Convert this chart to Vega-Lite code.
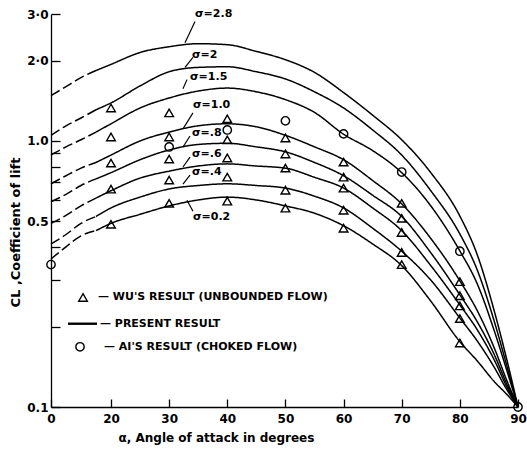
{
  "$schema": "https://vega.github.io/schema/vega-lite/v6.json",
  "width": 467,
  "height": 393,
  "autosize": {"type": "none"},
  "padding": {"left": 51, "top": 14, "right": 9, "bottom": 42},
  "background": "white",
  "config": {"view": {"stroke": null}, "font": "DejaVu Sans"},
  "datasets": {
    "curves": [
      {"s":"2.8","p":"e","a":0,"cl":1.48},{"s":"2.8","p":"e","a":5,"cl":1.60},{"s":"2.8","p":"e","a":10,"cl":1.73},{"s":"2.8","p":"e","a":15,"cl":1.84},
      {"s":"2.8","p":"m","a":15,"cl":1.84},{"s":"2.8","p":"m","a":20,"cl":1.94},{"s":"2.8","p":"m","a":25,"cl":2.15},{"s":"2.8","p":"m","a":30,"cl":2.26},{"s":"2.8","p":"m","a":35,"cl":2.32},{"s":"2.8","p":"m","a":40,"cl":2.30},{"s":"2.8","p":"m","a":45,"cl":2.17},{"s":"2.8","p":"m","a":50,"cl":2.02},{"s":"2.8","p":"m","a":55,"cl":1.81},{"s":"2.8","p":"m","a":60,"cl":1.52},{"s":"2.8","p":"m","a":65,"cl":1.25},{"s":"2.8","p":"m","a":70,"cl":1.01},{"s":"2.8","p":"m","a":75,"cl":0.76},{"s":"2.8","p":"m","a":80,"cl":0.522},{"s":"2.8","p":"m","a":83,"cl":0.373},{"s":"2.8","p":"m","a":86,"cl":0.226},{"s":"2.8","p":"m","a":88,"cl":0.153},{"s":"2.8","p":"m","a":90,"cl":0.1},

      {"s":"2","p":"e","a":0,"cl":1.05},{"s":"2","p":"e","a":5,"cl":1.14},{"s":"2","p":"e","a":10,"cl":1.22},{"s":"2","p":"e","a":15,"cl":1.31},
      {"s":"2","p":"m","a":15,"cl":1.31},{"s":"2","p":"m","a":20,"cl":1.39},{"s":"2","p":"m","a":25,"cl":1.61},{"s":"2","p":"m","a":30,"cl":1.82},{"s":"2","p":"m","a":35,"cl":1.89},{"s":"2","p":"m","a":40,"cl":1.90},{"s":"2","p":"m","a":45,"cl":1.82},{"s":"2","p":"m","a":50,"cl":1.71},{"s":"2","p":"m","a":55,"cl":1.53},{"s":"2","p":"m","a":60,"cl":1.33},{"s":"2","p":"m","a":65,"cl":1.10},{"s":"2","p":"m","a":70,"cl":0.885},{"s":"2","p":"m","a":75,"cl":0.65},{"s":"2","p":"m","a":80,"cl":0.447},{"s":"2","p":"m","a":83,"cl":0.327},{"s":"2","p":"m","a":86,"cl":0.207},{"s":"2","p":"m","a":88,"cl":0.145},{"s":"2","p":"m","a":90,"cl":0.1},

      {"s":"1.5","p":"e","a":0,"cl":0.885},{"s":"1.5","p":"e","a":5,"cl":0.95},{"s":"1.5","p":"e","a":10,"cl":1.01},{"s":"1.5","p":"e","a":15,"cl":1.08},
      {"s":"1.5","p":"m","a":15,"cl":1.08},{"s":"1.5","p":"m","a":20,"cl":1.16},{"s":"1.5","p":"m","a":25,"cl":1.33},{"s":"1.5","p":"m","a":30,"cl":1.45},{"s":"1.5","p":"m","a":35,"cl":1.54},{"s":"1.5","p":"m","a":40,"cl":1.58},{"s":"1.5","p":"m","a":45,"cl":1.53},{"s":"1.5","p":"m","a":50,"cl":1.43},{"s":"1.5","p":"m","a":55,"cl":1.28},{"s":"1.5","p":"m","a":60,"cl":1.06},{"s":"1.5","p":"m","a":65,"cl":0.92},{"s":"1.5","p":"m","a":70,"cl":0.76},{"s":"1.5","p":"m","a":75,"cl":0.57},{"s":"1.5","p":"m","a":80,"cl":0.386},{"s":"1.5","p":"m","a":83,"cl":0.29},{"s":"1.5","p":"m","a":86,"cl":0.191},{"s":"1.5","p":"m","a":88,"cl":0.139},{"s":"1.5","p":"m","a":90,"cl":0.1},

      {"s":"1.0","p":"e","a":0,"cl":0.69},{"s":"1.0","p":"e","a":5,"cl":0.74},{"s":"1.0","p":"e","a":10,"cl":0.79},{"s":"1.0","p":"e","a":15,"cl":0.83},
      {"s":"1.0","p":"m","a":15,"cl":0.83},{"s":"1.0","p":"m","a":20,"cl":0.885},{"s":"1.0","p":"m","a":25,"cl":1.0},{"s":"1.0","p":"m","a":30,"cl":1.08},{"s":"1.0","p":"m","a":35,"cl":1.14},{"s":"1.0","p":"m","a":40,"cl":1.16},{"s":"1.0","p":"m","a":45,"cl":1.13},{"s":"1.0","p":"m","a":50,"cl":1.05},{"s":"1.0","p":"m","a":55,"cl":0.95},{"s":"1.0","p":"m","a":60,"cl":0.85},{"s":"1.0","p":"m","a":65,"cl":0.71},{"s":"1.0","p":"m","a":70,"cl":0.58},{"s":"1.0","p":"m","a":75,"cl":0.43},{"s":"1.0","p":"m","a":80,"cl":0.298},{"s":"1.0","p":"m","a":83,"cl":0.23},{"s":"1.0","p":"m","a":86,"cl":0.165},{"s":"1.0","p":"m","a":88,"cl":0.127},{"s":"1.0","p":"m","a":90,"cl":0.1},

      {"s":".8","p":"e","a":0,"cl":0.59},{"s":".8","p":"e","a":5,"cl":0.63},{"s":".8","p":"e","a":10,"cl":0.68},{"s":".8","p":"e","a":15,"cl":0.72},
      {"s":".8","p":"m","a":15,"cl":0.72},{"s":".8","p":"m","a":20,"cl":0.76},{"s":".8","p":"m","a":25,"cl":0.85},{"s":".8","p":"m","a":30,"cl":0.925},{"s":".8","p":"m","a":35,"cl":0.97},{"s":".8","p":"m","a":40,"cl":0.98},{"s":".8","p":"m","a":45,"cl":0.95},{"s":".8","p":"m","a":50,"cl":0.91},{"s":".8","p":"m","a":55,"cl":0.83},{"s":".8","p":"m","a":60,"cl":0.74},{"s":".8","p":"m","a":65,"cl":0.625},{"s":".8","p":"m","a":70,"cl":0.52},{"s":".8","p":"m","a":75,"cl":0.38},{"s":".8","p":"m","a":80,"cl":0.264},{"s":".8","p":"m","a":83,"cl":0.209},{"s":".8","p":"m","a":86,"cl":0.156},{"s":".8","p":"m","a":88,"cl":0.123},{"s":".8","p":"m","a":90,"cl":0.1},

      {"s":".6","p":"e","a":0,"cl":0.49},{"s":".6","p":"e","a":5,"cl":0.525},{"s":".6","p":"e","a":10,"cl":0.57},{"s":".6","p":"e","a":15,"cl":0.61},
      {"s":".6","p":"m","a":15,"cl":0.61},{"s":".6","p":"m","a":20,"cl":0.65},{"s":".6","p":"m","a":25,"cl":0.725},{"s":".6","p":"m","a":30,"cl":0.77},{"s":".6","p":"m","a":35,"cl":0.805},{"s":".6","p":"m","a":40,"cl":0.82},{"s":".6","p":"m","a":45,"cl":0.805},{"s":".6","p":"m","a":50,"cl":0.79},{"s":".6","p":"m","a":55,"cl":0.73},{"s":".6","p":"m","a":60,"cl":0.665},{"s":".6","p":"m","a":65,"cl":0.56},{"s":".6","p":"m","a":70,"cl":0.46},{"s":".6","p":"m","a":75,"cl":0.34},{"s":".6","p":"m","a":80,"cl":0.242},{"s":".6","p":"m","a":83,"cl":0.195},{"s":".6","p":"m","a":86,"cl":0.149},{"s":".6","p":"m","a":88,"cl":0.12},{"s":".6","p":"m","a":90,"cl":0.1},

      {"s":".4","p":"e","a":0,"cl":0.41},{"s":".4","p":"e","a":5,"cl":0.445},{"s":".4","p":"e","a":10,"cl":0.49},{"s":".4","p":"e","a":15,"cl":0.52},
      {"s":".4","p":"m","a":15,"cl":0.52},{"s":".4","p":"m","a":20,"cl":0.56},{"s":".4","p":"m","a":25,"cl":0.615},{"s":".4","p":"m","a":30,"cl":0.66},{"s":".4","p":"m","a":35,"cl":0.68},{"s":".4","p":"m","a":40,"cl":0.69},{"s":".4","p":"m","a":45,"cl":0.68},{"s":".4","p":"m","a":50,"cl":0.665},{"s":".4","p":"m","a":55,"cl":0.62},{"s":".4","p":"m","a":60,"cl":0.56},{"s":".4","p":"m","a":65,"cl":0.47},{"s":".4","p":"m","a":70,"cl":0.385},{"s":".4","p":"m","a":75,"cl":0.30},{"s":".4","p":"m","a":80,"cl":0.216},{"s":".4","p":"m","a":83,"cl":0.177},{"s":".4","p":"m","a":86,"cl":0.14},{"s":".4","p":"m","a":88,"cl":0.117},{"s":".4","p":"m","a":90,"cl":0.1},

      {"s":"0.2","p":"e","a":0,"cl":0.36},{"s":"0.2","p":"e","a":5,"cl":0.40},{"s":"0.2","p":"e","a":10,"cl":0.44},{"s":"0.2","p":"e","a":15,"cl":0.46},
      {"s":"0.2","p":"m","a":15,"cl":0.46},{"s":"0.2","p":"m","a":20,"cl":0.49},{"s":"0.2","p":"m","a":25,"cl":0.53},{"s":"0.2","p":"m","a":30,"cl":0.57},{"s":"0.2","p":"m","a":35,"cl":0.60},{"s":"0.2","p":"m","a":40,"cl":0.615},{"s":"0.2","p":"m","a":45,"cl":0.60},{"s":"0.2","p":"m","a":50,"cl":0.57},{"s":"0.2","p":"m","a":55,"cl":0.535},{"s":"0.2","p":"m","a":60,"cl":0.48},{"s":"0.2","p":"m","a":65,"cl":0.41},{"s":"0.2","p":"m","a":70,"cl":0.34},{"s":"0.2","p":"m","a":75,"cl":0.25},{"s":"0.2","p":"m","a":80,"cl":0.176},{"s":"0.2","p":"m","a":83,"cl":0.149},{"s":"0.2","p":"m","a":86,"cl":0.124},{"s":"0.2","p":"m","a":88,"cl":0.112},{"s":"0.2","p":"m","a":90,"cl":0.1}
    ],
    "wu": [
      {"a":20,"cl":1.33},{"a":20,"cl":1.035},{"a":20,"cl":0.826},{"a":20,"cl":0.659},{"a":20,"cl":0.486},
      {"a":30,"cl":1.275},{"a":30,"cl":1.035},{"a":30,"cl":0.855},{"a":30,"cl":0.713},{"a":30,"cl":0.583},
      {"a":40,"cl":1.211},{"a":40,"cl":1.009},{"a":40,"cl":0.863},{"a":40,"cl":0.731},{"a":40,"cl":0.594},
      {"a":50,"cl":1.026},{"a":50,"cl":0.893},{"a":50,"cl":0.791},{"a":50,"cl":0.653},{"a":50,"cl":0.559},
      {"a":60,"cl":0.833},{"a":60,"cl":0.731},{"a":60,"cl":0.665},{"a":60,"cl":0.549},{"a":60,"cl":0.47},
      {"a":70,"cl":0.583},{"a":70,"cl":0.512},{"a":70,"cl":0.453},{"a":70,"cl":0.381},{"a":70,"cl":0.343},
      {"a":80,"cl":0.296},{"a":80,"cl":0.262},{"a":80,"cl":0.24},{"a":80,"cl":0.215},{"a":80,"cl":0.174}
    ],
    "ai": [
      {"a":0,"cl":0.343},{"a":30,"cl":0.949},{"a":40,"cl":1.10},{"a":50,"cl":1.19},{"a":60,"cl":1.063},{"a":70,"cl":0.764},{"a":80,"cl":0.385},{"a":90,"cl":0.1}
    ],
    "labels": [
      {"t":"σ=2.8","a":34.45,"cl":3.01},
      {"t":"σ=2","a":33.93,"cl":2.11},
      {"t":"σ=1.5","a":33.59,"cl":1.74},
      {"t":"σ=1.0","a":34.1,"cl":1.36},
      {"t":"σ=.8","a":33.93,"cl":1.07},
      {"t":"σ=.6","a":33.93,"cl":0.893},
      {"t":"σ=.4","a":33.93,"cl":0.764},
      {"t":"σ=0.2","a":34.1,"cl":0.517}
    ],
    "leaders": [
      {"a":34.45,"cl":2.81,"a2":32.73,"c2":2.34},
      {"a":34.1,"cl":2.06,"a2":32.73,"c2":1.89},
      {"a":33.07,"cl":1.70,"a2":32.38,"c2":1.57},
      {"a":34.1,"cl":1.275,"a2":32.38,"c2":1.11},
      {"a":33.59,"cl":1.044,"a2":32.38,"c2":0.949},
      {"a":33.59,"cl":0.87,"a2":32.38,"c2":0.798},
      {"a":33.59,"cl":0.744,"a2":32.38,"c2":0.688},
      {"a":33.07,"cl":0.599,"a2":34.1,"c2":0.544}
    ],
    "legendText": [
      {"t":"— WU'S RESULT (UNBOUNDED FLOW)","a":15.67,"cl":0.258},
      {"t":"— PRESENT RESULT","a":16.33,"cl":0.2056},
      {"t":"— AI'S RESULT (CHOKED FLOW)","a":17.67,"cl":0.1684}
    ],
    "legendLine": [{"a":5.67,"cl":0.2056,"a2":15.33,"c2":0.2056}],
    "legendTri": [{"a":10.67,"cl":0.258}],
    "legendCirc": [{"a":9.67,"cl":0.1684}]
  },
  "encoding": {
    "x": {
      "field": "a", "type": "quantitative",
      "scale": {"domain": [0, 20, 90], "range": [0, 60, 467], "nice": false, "zero": false},
      "axis": {
        "values": [0, 20, 30, 40, 50, 60, 70, 80, 90],
        "title": "α, Angle of attack in degrees",
        "grid": false, "domainColor": "black", "domainWidth": 1.3,
        "tickColor": "black", "tickWidth": 1.3, "tickSize": -8,
        "labelPadding": 14, "labelFontSize": 12, "labelFontWeight": "bold", "labelColor": "black",
        "labelFont": "DejaVu Sans", "labelFlush": false, "labelOverlap": false,
        "titleFont": "DejaVu Sans", "titleFontSize": 12, "titleFontWeight": "bold", "titleColor": "black",
        "titleAnchor": "start", "titleAlign": "left", "titleX": 67, "titleY": 30, "titleBaseline": "middle"
      }
    },
    "y": {
      "field": "cl", "type": "quantitative",
      "scale": {"type": "log", "domain": [0.1, 3], "nice": false},
      "axis": {
        "values": [0.1, 0.2, 0.3, 0.4, 0.5, 0.6, 0.7, 0.8, 0.9, 1, 2, 3],
        "labelExpr": "datum.value == 3 ? '3·0' : datum.value == 2 ? '2·0' : datum.value == 1 ? '1.0' : datum.value == 0.5 ? '0.5' : datum.value == 0.1 ? '0.1' : ''",
        "title": "CL ,Coefficient of lift",
        "grid": false, "domainColor": "black", "domainWidth": 1.3,
        "tickColor": "black", "tickWidth": 1.3, "tickSize": -9,
        "labelPadding": 12, "labelFontSize": 12, "labelFontWeight": "bold", "labelColor": "black",
        "labelFont": "DejaVu Sans", "labelFlush": false, "labelOverlap": false,
        "titleFont": "DejaVu Sans", "titleFontSize": 13, "titleFontWeight": "bold", "titleColor": "black",
        "titleAngle": 270, "titleAlign": "center", "titleBaseline": "middle", "titleX": -36, "titleY": 218
      }
    }
  },
  "layer": [
    {
      "data": {"name": "curves"},
      "mark": {"type": "line", "interpolate": "monotone", "color": "black", "strokeWidth": 1.5, "clip": false},
      "encoding": {
        "detail": [{"field": "s"}, {"field": "p"}],
        "strokeDash": {"field": "p", "type": "nominal", "scale": {"domain": ["e", "m"], "range": [[10, 4], [1, 0]]}, "legend": null}
      }
    },
    {
      "data": {"name": "wu"},
      "mark": {"type": "point", "shape": "triangle-up", "filled": false, "color": "black", "strokeWidth": 1.4, "size": 75, "opacity": 1, "clip": false}
    },
    {
      "data": {"name": "ai"},
      "mark": {"type": "point", "shape": "circle", "filled": false, "color": "black", "strokeWidth": 1.4, "size": 70, "opacity": 1, "clip": false}
    },
    {
      "data": {"name": "leaders"},
      "mark": {"type": "rule", "color": "black", "strokeWidth": 1.2, "clip": false},
      "encoding": {"x2": {"field": "a2"}, "y2": {"field": "c2"}}
    },
    {
      "data": {"name": "labels"},
      "mark": {"type": "text", "align": "left", "baseline": "middle", "font": "DejaVu Sans", "fontSize": 11, "fontWeight": "bold", "color": "black", "clip": false},
      "encoding": {"text": {"field": "t"}}
    },
    {
      "data": {"name": "legendLine"},
      "mark": {"type": "rule", "color": "black", "strokeWidth": 2.4},
      "encoding": {"x2": {"field": "a2"}, "y2": {"field": "c2"}}
    },
    {
      "data": {"name": "legendTri"},
      "mark": {"type": "point", "shape": "triangle-up", "filled": false, "color": "black", "strokeWidth": 1.4, "size": 75, "opacity": 1}
    },
    {
      "data": {"name": "legendCirc"},
      "mark": {"type": "point", "shape": "circle", "filled": false, "color": "black", "strokeWidth": 1.4, "size": 70, "opacity": 1}
    },
    {
      "data": {"name": "legendText"},
      "mark": {"type": "text", "align": "left", "baseline": "middle", "font": "DejaVu Sans", "fontSize": 11, "fontWeight": "bold", "color": "black"},
      "encoding": {"text": {"field": "t"}}
    }
  ]
}
